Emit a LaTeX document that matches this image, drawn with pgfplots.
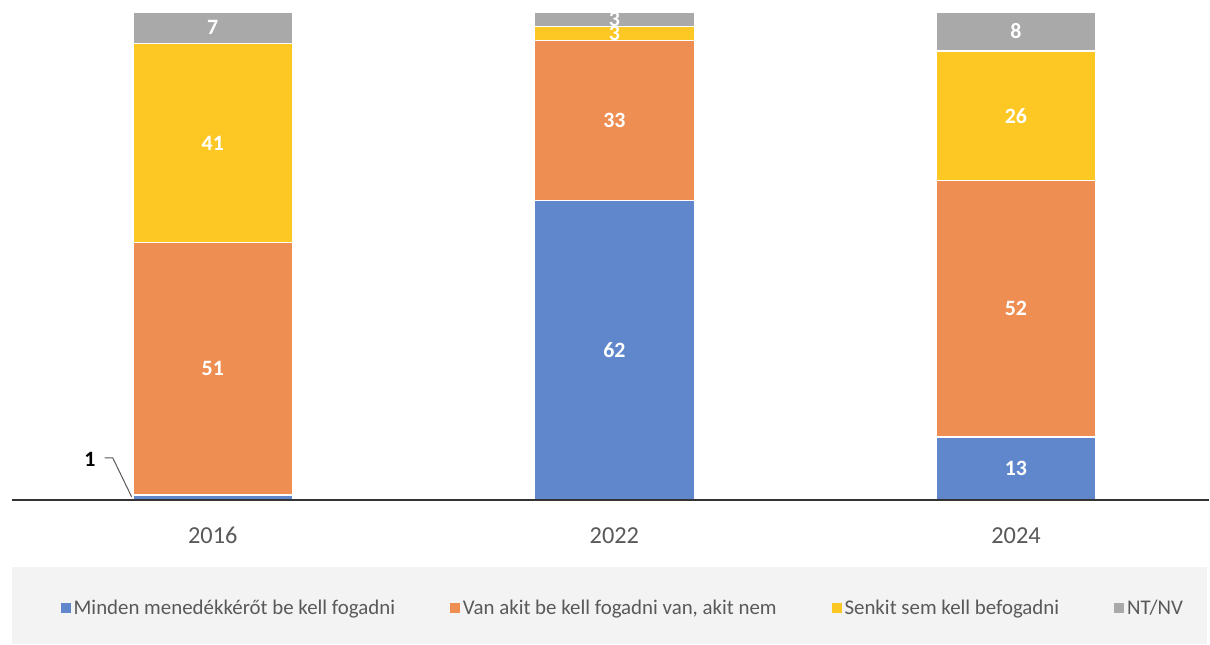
\documentclass[border=0pt]{standalone}
\usepackage{fontspec}
\setmainfont{Carlito}
\usepackage{pgfplots}
\usepackage{pgfplotstable}
\pgfplotsset{compat=1.18}
\definecolor{cblue}{HTML}{6087CC}
\definecolor{corange}{HTML}{EE8E52}
\definecolor{cyellow}{HTML}{FEC824}
\definecolor{cgray}{HTML}{A9A9A9}
\definecolor{legbg}{HTML}{F3F3F3}
\definecolor{ticktext}{HTML}{595959}
% heights (share of 100%) and the rounded labels shown
\pgfplotstableread{
x blue bluel orange orangel yellow yellowl gray grayl
0 1.0 1 51.7 51 40.9 41 6.4 7
1 61.4 62 32.8 33 2.9 3 2.9 3
2 12.9 13 52.6 52 26.5 26 8.0 8
}\datatable
\begin{document}
\begin{tikzpicture}
\fill[white] (-12bp,-145bp) rectangle (1198bp,501bp);
\fill[legbg] (0bp,-67bp) rectangle (1198bp,-144bp);
\begin{axis}[
  at={(0,0)}, anchor=south west,
  scale only axis,
  width=1199.5bp, height=489bp,
  ybar stacked, bar width=160bp,
  xmin=-0.5, xmax=2.48, ymin=0, ymax=100,
  clip=false,
  axis on top,
  hide y axis,
  axis x line*=bottom,
  x axis line style={line width=2.5bp, black!80},
  xtick={0,1,2}, xticklabels={2016,2022,2024},
  major tick length=0pt,
  xticklabel style={font=\fontsize{24.5}{29}\selectfont, text=ticktext, yshift=-24bp},
  /pgf/number format/assume math mode=true,
  point meta=explicit,
  visualization depends on=rawy \as \rawy,
  nodes near coords={\ifdim\rawy pt<2pt\else\pgfmathprintnumber{\pgfplotspointmeta}\fi},
  every node near coord/.append style={anchor=center, text=white,
     font=\fontsize{22}{26}\selectfont\bfseries},
  legend style={at={(0.51,-0.221)}, anchor=center, draw=none, fill=none,
     legend columns=-1, font=\fontsize{21}{25}\selectfont, text=ticktext,
     nodes={inner sep=1bp},
     /tikz/every odd column/.append style={column sep=2bp},
     /tikz/every even column/.append style={column sep=54bp}},
  legend image code/.code={\fill[#1,draw=none] (0bp,-5bp) rectangle (10bp,5bp);},
  every axis plot/.append style={draw=white, line width=1.2bp},
]
\addplot[fill=cblue] table[x=x,y=blue,meta=bluel] \datatable;
\addplot[fill=corange] table[x=x,y=orange,meta=orangel] \datatable;
\addplot[fill=cyellow] table[x=x,y=yellow,meta=yellowl] \datatable;
\addplot[fill=cgray] table[x=x,y=gray,meta=grayl] \datatable;
\legend{Minden menedékkérőt be kell fogadni, {Van akit be kell fogadni van, akit nem}, Senkit sem kell befogadni, NT/NV}
\node[font=\fontsize{22}{26}\selectfont\bfseries, text=black] at (axis cs:-0.306,8.2) {1};
\draw[ticktext, line width=1bp] (axis cs:-0.269,8.6) -- (axis cs:-0.249,8.6) -- (axis cs:-0.2019,0.6);
\end{axis}
\end{tikzpicture}
\end{document}
